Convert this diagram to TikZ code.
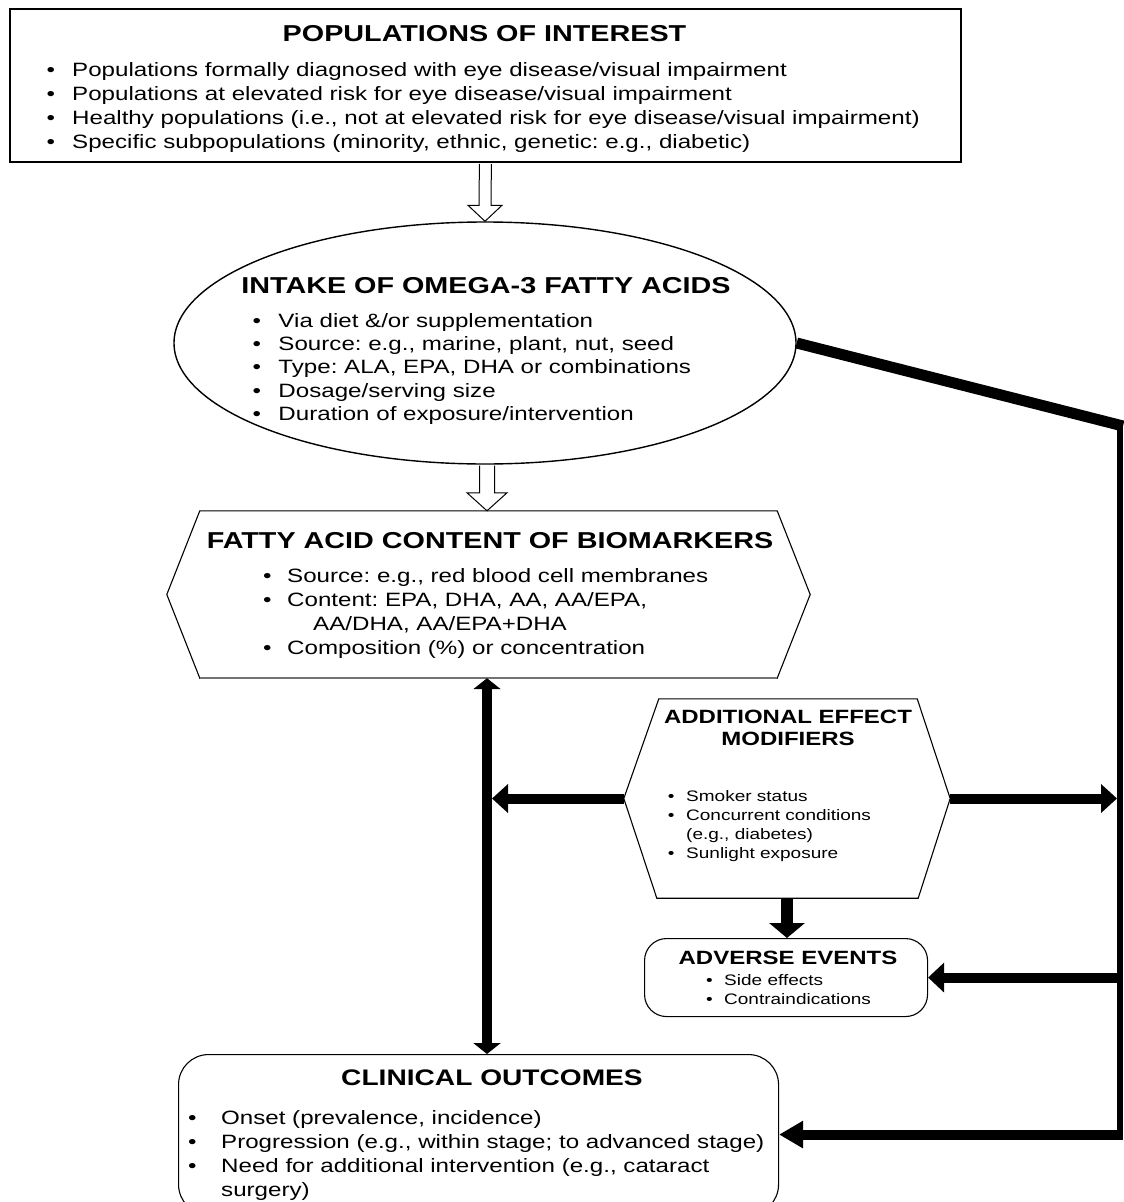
\documentclass[tikz,border=0pt]{standalone}
\usepackage{fontspec}
\setmainfont{Liberation Sans}[FakeStretch=1.25]
\usetikzlibrary{arrows.meta,calc,shapes.geometric}
\frenchspacing
\tikzset{
  shp/.style={draw=black, line width=1.4pt, fill=white, inner sep=0pt},
  tt/.style={inner sep=0pt, anchor=base, font=\fontsize{23}{27}\selectfont\bfseries},
  ttc/.style={inner sep=0pt, anchor=base, font=\fontsize{22.5}{27}\selectfont\bfseries},
  ts/.style={inner sep=0pt, anchor=base, font=\fontsize{19.2}{23}\selectfont\bfseries},
  bl/.style={inner sep=0pt, anchor=base west, font=\fontsize{19.3}{24}\selectfont},
  bs/.style={inner sep=0pt, anchor=base west, font=\fontsize{15.2}{19}\selectfont},
  openarr/.style={draw=black, line width=1pt, fill=white},
  thk/.style={draw=black, line width=10pt},
  tipA/.style={-{Triangle[width=28pt 0 0, length=16pt 0 0]}},
  tipD/.style={{Triangle[width=27pt 0 0, length=11pt 0 0]}-{Triangle[width=27pt 0 0, length=11pt 0 0]}},
}
\newcommand\bu[1]{\makebox[#1][l]{•}}
\begin{document}
\begin{tikzpicture}[x=1pt,y=-1pt]
\clip (0,0) rectangle (1124,1202);
\fill[white] (0,0) rectangle (1124,1202);

% ---------- shapes ----------
\node[shp, rectangle, line width=1.8pt, minimum width=951pt, minimum height=153pt, anchor=north west] (pop) at (9,8) {};
\node[shp, ellipse, minimum width=622pt, minimum height=242pt] (intake) at (485,343) {};
\node[inner sep=0pt, minimum width=643pt, minimum height=167pt] (fac) at (488.5,594.5) {};
\draw[shp, line width=1.1pt] ($(fac.north west)+(33,0)$) -- ($(fac.north east)+(-33,0)$) -- (fac.east)
   -- ($(fac.south east)+(-33,0)$) -- ($(fac.south west)+(33,0)$) -- (fac.west) -- cycle;
\draw[draw=black!55, line width=2pt] ($(fac.south east)+(-33,0)$) -- ($(fac.south west)+(33,0)$);
\node[inner sep=0pt, minimum width=326pt, minimum height=199pt] (mod) at (787,798.5) {};
\draw[shp, line width=1.1pt] ($(mod.north west)+(35,0)$) -- ($(mod.north east)+(-33,0)$) -- (mod.east)
   -- ($(mod.south east)+(-32,0)$) -- ($(mod.south west)+(33,0)$) -- (mod.west) -- cycle;
\node[shp, line width=1.1pt, rounded corners=22pt, minimum width=283pt, minimum height=78pt, anchor=north west] (adv) at (644,938) {};
\node[shp, line width=1.1pt, rounded corners=30pt, minimum width=600pt, minimum height=160pt, anchor=north west] (clin) at (178,1054) {};

% ---------- texts ----------
\node[tt] (popT) at (484.5,41) {POPULATIONS OF INTEREST};
\node[bl] (p1) at (46.5,76) {\bu{25.5pt}Populations formally diagnosed with eye disease/visual impairment};
\node[bl] (p2) at (46.5,100) {\bu{25.5pt}Populations at elevated risk for eye disease/visual impairment};
\node[bl] (p3) at (46.5,124) {\bu{25.5pt}Healthy populations (i.e., not at elevated risk for eye disease/visual impairment)};
\node[bl] (p4) at (46.5,148) {\bu{25.5pt}Specific subpopulations (minority, ethnic, genetic: e.g., diabetic)};

\node[tt] (inT) at (486,293) {INTAKE OF OMEGA-3 FATTY ACIDS};
\node[bl] (i1) at (252.5,327) {\bu{25.8pt}Via diet \&/or supplementation};
\node[bl] (i2) at (252.5,350) {\bu{25.8pt}Source: e.g., marine, plant, nut, seed};
\node[bl] (i3) at (252.5,373.5) {\bu{25.8pt}Type: ALA, EPA, DHA or combinations};
\node[bl] (i4) at (252.5,397) {\bu{25.8pt}Dosage/serving size};
\node[bl] (i5) at (252.5,420) {\bu{25.8pt}Duration of exposure/intervention};

\node[tt] (faT) at (490,548) {FATTY ACID CONTENT OF BIOMARKERS};
\node[bl] (f1) at (262.8,582) {\bu{24.2pt}Source: e.g., red blood cell membranes};
\node[bl] (f2) at (262.8,606) {\bu{24.2pt}Content: EPA, DHA, AA, AA/EPA,};
\node[bl] (f3) at (313,630) {AA/DHA, AA/EPA+DHA};
\node[bl] (f4) at (262.8,654) {\bu{24.2pt}Composition (\%) or concentration};

\node[ts] (moT1) at (788,723) {ADDITIONAL EFFECT};
\node[ts] (moT2) at (788,745) {MODIFIERS};
\node[bs] (m1) at (667.7,801) {\bu{18.3pt}Smoker status};
\node[bs] (m2) at (667.7,820) {\bu{18.3pt}Concurrent conditions};
\node[bs] (m3) at (686,839) {(e.g., diabetes)};
\node[bs] (m4) at (667.7,858) {\bu{18.3pt}Sunlight exposure};

\node[ts] (adT) at (788,964) {ADVERSE EVENTS};
\node[bs] (a1) at (706,985.5) {\bu{18pt}Side effects};
\node[bs] (a2) at (706,1004.5) {\bu{18pt}Contraindications};

\node[ttc] (clT) at (492,1085) {CLINICAL OUTCOMES};
\node[bl] (c1) at (187.8,1124) {\bu{33.2pt}Onset (prevalence, incidence)};
\node[bl] (c2) at (187.8,1148) {\bu{33.2pt}Progression (e.g., within stage; to advanced stage)};
\node[bl] (c3) at (187.8,1172) {\bu{33.2pt}Need for additional intervention (e.g., cataract};
\node[bl] (c4) at (221,1196) {surgery)};

% ---------- open arrows ----------
\filldraw[openarr] ($(pop.south)+(-6,1)$) -- ($(intake.north)+(-6,-16)$) -- ($(intake.north)+(-17,-16)$)
   -- (intake.north) -- ($(intake.north)+(17,-16)$) -- ($(intake.north)+(6,-16)$) -- ($(pop.south)+(6,1)$);
\filldraw[openarr] ($(intake.south)+(-5.5,1)$) -- ($(fac.north)+(-9,-18)$) -- ($(fac.north)+(-21.5,-18)$)
   -- ($(fac.north)+(-1.5,0)$) -- ($(fac.north)+(18.5,-18)$) -- ($(fac.north)+(6,-18)$) -- ($(intake.south)+(9.5,1)$);

% ---------- thick connectors ----------
\coordinate (va) at ($(fac.south)+(-1.5,0)$);
\draw[thk, tipD] (va) -- (va |- clin.north);
\coordinate (vr) at ($(mod.west -| va)+(5,0)$);
\draw[thk, tipA] (mod.west) -- (vr);
\coordinate (rt) at (1120,426);
\coordinate (rl) at ($(mod.east -| rt)+(-3,0)$);
\draw[thk, tipA] (mod.east) -- (rl);
\draw[thk, -{Triangle[width=35pt 0 0, length=15pt 0 0]}, line width=12pt] (mod.south) -- (mod.south |- adv.north);
\draw[draw=black, line width=11pt] (intake.east) -- ($(rt)+(3,0)$);
\draw[draw=black, line width=6pt] (rt) -- (clin.east -| rt);
\draw[thk, -{Triangle[width=29pt 0 0, length=16pt 0 0]}] ($(adv.east -| rt)+(3,0)$) -- (adv.east);
\draw[thk, -{Triangle[width=26pt 0 0, length=24pt 0 0]}] ($(clin.east -| rt)+(3,0)$) -- (clin.east);
\end{tikzpicture}
\end{document}
